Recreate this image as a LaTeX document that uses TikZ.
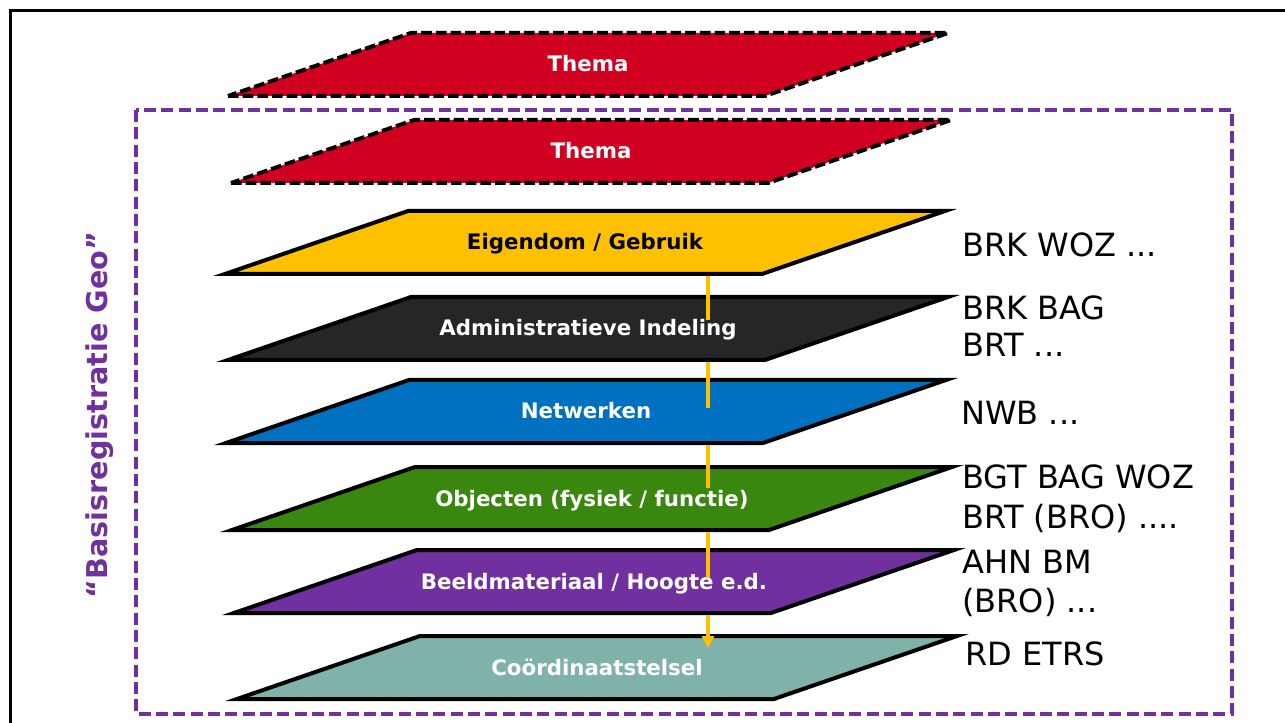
\documentclass[tikz,border=0pt]{standalone}
\usepackage{fontspec}
\setmainfont{DejaVu Sans}
\usepackage{tikz}
\usepackage{xcolor}
\usetikzlibrary{arrows.meta}

\definecolor{themared}{HTML}{D20020}
\definecolor{eigenyellow}{HTML}{FFC000}
\definecolor{adminblack}{HTML}{262626}
\definecolor{netblue}{HTML}{0070C0}
\definecolor{objgreen}{HTML}{3A870F}
\definecolor{beeldpurple}{HTML}{7030A0}
\definecolor{coordteal}{HTML}{7FB2A8}
\definecolor{geopurple}{HTML}{7030A0}

\begin{document}
\begin{tikzpicture}[x=0.75pt, y=-0.75pt,
	plane/.style={draw=black, line width=3pt, line join=miter},
	planedash/.style={draw=black, line width=3pt, dash pattern=on 8pt off 3pt},
	planelabel/.style={font=\bfseries\fontsize{16}{19}\selectfont, anchor=base, inner sep=0pt},
	reglabel/.style={font=\fontsize{24}{29}\selectfont, anchor=base west, inner sep=0pt},
	geobox/.style={draw=geopurple, line width=2.5pt, dash pattern=on 9pt off 4pt},
	link/.style={draw=eigenyellow, line width=2.5pt}]
	\useasboundingbox (0,0) rectangle (1285,723);
	\draw[line width=2.25pt] (10,723) -- (10,11) -- (1285,11);
	\draw[geobox] (136,110) rectangle (1232,714);
	\node[font=\bfseries\fontsize{21.5}{25}\selectfont, text=geopurple, rotate=90] (geo) at (100,415) {“Basisregistratie Geo”};
	\foreach \y/\x/\d/\c/\tc/\s/\t [count=\i] in {
		33/228/0/themared/white/planedash/Thema,
		120/231/0/themared/white/planedash/Thema,
		211/225/0/eigenyellow/black/plane/{Eigendom / Gebruik},
		297/228/23/adminblack/white/plane/{Administratieve Indeling},
		380/226/28/netblue/white/plane/Netwerken,
		467/232/21/objgreen/white/plane/{Objecten (fysiek / functie)},
		550/234/28/beeldpurple/white/plane/{Beeldmateriaal / Hoogte e.d.},
		636/237/12/coordteal/white/plane/Coördinaatstelsel}
	{
		\filldraw[\s, fill=\c] (\x,\y+63) -- ++(537,0) -- ++(183,-63) -- ++(-537,0) -- cycle;
		\node[planelabel, text=\tc] (p\i) at (\x+360,\y+39) {\t};
		\coordinate (b\i) at (708,\y+65);
		\coordinate (e\i) at (708,\y+\d);
	}
	\foreach \a/\b in {3/4,4/5,5/6,6/7}
	{
		\draw[link] (b\a) -- (e\b);
	}
	\draw[link, -{Triangle[width=9pt,length=9pt]}] (b7) -- (e8);
	\node[reglabel] (r1) at (962,257) {BRK WOZ ...};
	\node[reglabel] (r2) at (962,320) {BRK BAG};
	\node[reglabel] (r3) at (962,357) {BRT ...};
	\node[reglabel] (r4) at (961,425) {NWB ...};
	\node[reglabel] (r5) at (962,488) {BGT BAG WOZ};
	\node[reglabel] (r6) at (962,528) {BRT (BRO) ....};
	\node[reglabel] (r7) at (962,573) {AHN BM};
	\node[reglabel] (r8) at (962,612) {(BRO) ...};
	\node[reglabel] (r9) at (965,665) {RD ETRS};
\end{tikzpicture}
\end{document}
